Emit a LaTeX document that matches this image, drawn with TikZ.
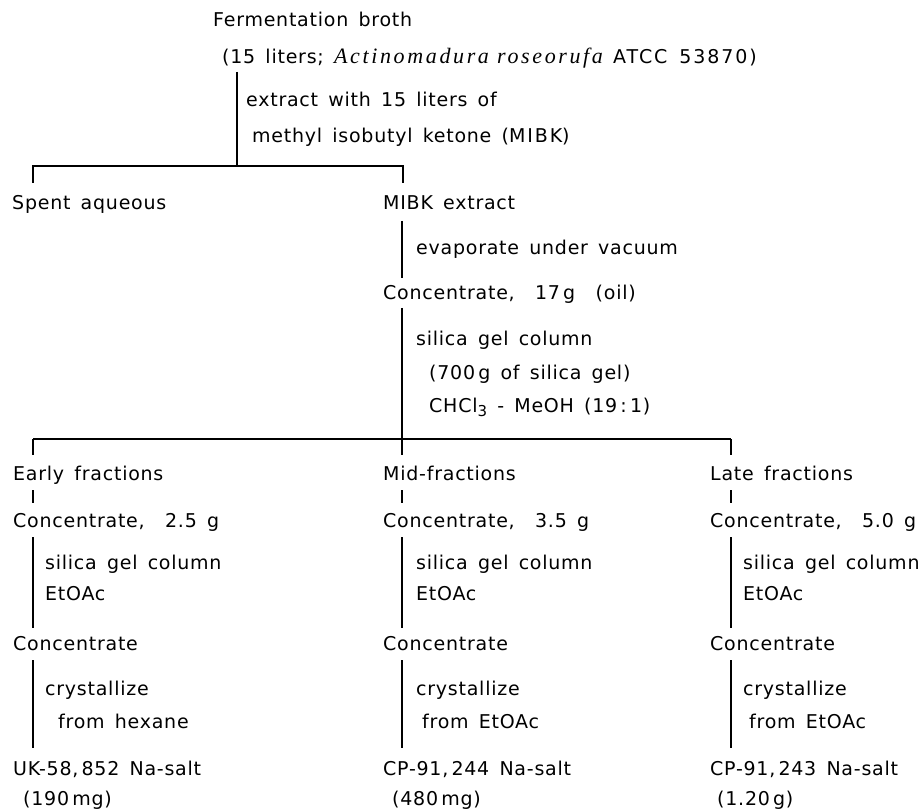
\documentclass[tikz,border=0pt]{standalone}
\usepackage{fontspec}
\setmainfont{DejaVu Sans}[LetterSpace=4,WordSpace=1.5]
\newfontfamily\serifit{Liberation Serif}[LetterSpace=12]
\newfontfamily\widesans{DejaVu Sans}[LetterSpace=10,WordSpace=1.5]
\begin{document}
\begin{tikzpicture}[x=1pt,y=-1pt,
  lab/.style={anchor=base west, inner sep=0pt, font=\fontsize{19}{22}\selectfont},
  conn/.style={line width=1.7pt, line cap=butt}]
\useasboundingbox (0,0) rectangle (924,810);
% top part
\node[lab] (broth)  at (213,27)  {Fermentation broth};
\node[lab] (brothb) at (222,64)  {(15 liters; {\serifit\itshape\fontsize{22}{22}\selectfont Actinomadura roseorufa} {\widesans ATCC 53870)}};
\node[lab] (ext1)   at (246,107) {extract with 15 liters of};
\node[lab] (ext2)   at (252,143) {methyl isobutyl ketone ({\widesans MIBK})};
\node[lab] (spent)  at (12,210)  {Spent aqueous};
\node[lab] (mibk)   at (383,210) {MIBK extract};
\node[lab] (evap)   at (416,255) {evaporate under vacuum};
\node[lab] (conc)   at (383,300) {Concentrate,\ \ 17\,g\ \ (oil)};
\node[lab] (sgc)    at (416,345) {silica gel column};
\node[lab] (sgw)    at (429,380) {(700\,g of silica gel)};
\node[lab] (elu)    at (429,412) {CHCl\raisebox{-5pt}{\fontsize{15}{15}\selectfont 3} - MeOH\ (19\,:\,1)};
% junction coordinates
\coordinate (t0) at (237,72);
\coordinate (t1) at (237,166);
\coordinate (t1l) at (33,166);
\coordinate (t1r) at (403,166);
\coordinate (t2l) at (33,183);
\coordinate (t2r) at (403,183);
\draw[conn] (t0) -- (t1);
\draw[conn] (t2l) -- (t1l) -- (t1r) -- (t2r);
\coordinate (e0) at (402,221);
\coordinate (e1) at (402,278);
\draw[conn] (e0) -- (e1);
\coordinate (s0) at (402,308);
\coordinate (s1) at (402,439);
\coordinate (s1l) at (33,439);
\coordinate (s1r) at (731,439);
\draw[conn] (s0) -- (s1);
\draw[conn] (s1l) -- (s1r);
% three columns
\foreach \n/\tx/\lx/\bx/\fx/\ax/\fr/\cw/\salt/\solv/\yld in {
  L/13/33/45/58/23/{Early fractions}/{2.5}/{UK-58,\,852 Na-salt}/hexane/{190\,mg},
  M/383/402/416/422/392/{Mid-fractions}/{3.5}/{CP-91,\,244 Na-salt}/EtOAc/{480\,mg},
  R/710/731/743/749/717/{Late fractions}/{5.0}/{CP-91,\,243 Na-salt}/EtOAc/{1.20\,g}}{
  \node[lab] (fr\n) at (\tx,480) {\fr};
  \node[lab] (c\n)  at (\tx,527) {Concentrate,\ \ \cw\ g};
  \node[lab] (sg\n) at (\bx,569) {silica gel column};
  \node[lab] (et\n) at (\bx,600) {EtOAc};
  \node[lab] (cc\n) at (\tx,650) {Concentrate};
  \node[lab] (cr\n) at (\bx,695) {crystallize};
  \node[lab] (fm\n) at (\fx,728) {from \solv};
  \node[lab] (na\n) at (\tx,775) {\salt};
  \node[lab] (y\n)  at (\ax,805) {(\yld)};
  \coordinate (a\n) at (\lx,439);
  \coordinate (b\n) at (\lx,455);
  \coordinate (p\n) at (\lx,490);
  \coordinate (q\n) at (\lx,503);
  \coordinate (u\n) at (\lx,537);
  \coordinate (v\n) at (\lx,628);
  \coordinate (w\n) at (\lx,660);
  \coordinate (z\n) at (\lx,748);
  \draw[conn] (a\n) -- (b\n);
  \draw[conn] (p\n) -- (q\n);
  \draw[conn] (u\n) -- (v\n);
  \draw[conn] (w\n) -- (z\n);
}
\end{tikzpicture}
\end{document}
